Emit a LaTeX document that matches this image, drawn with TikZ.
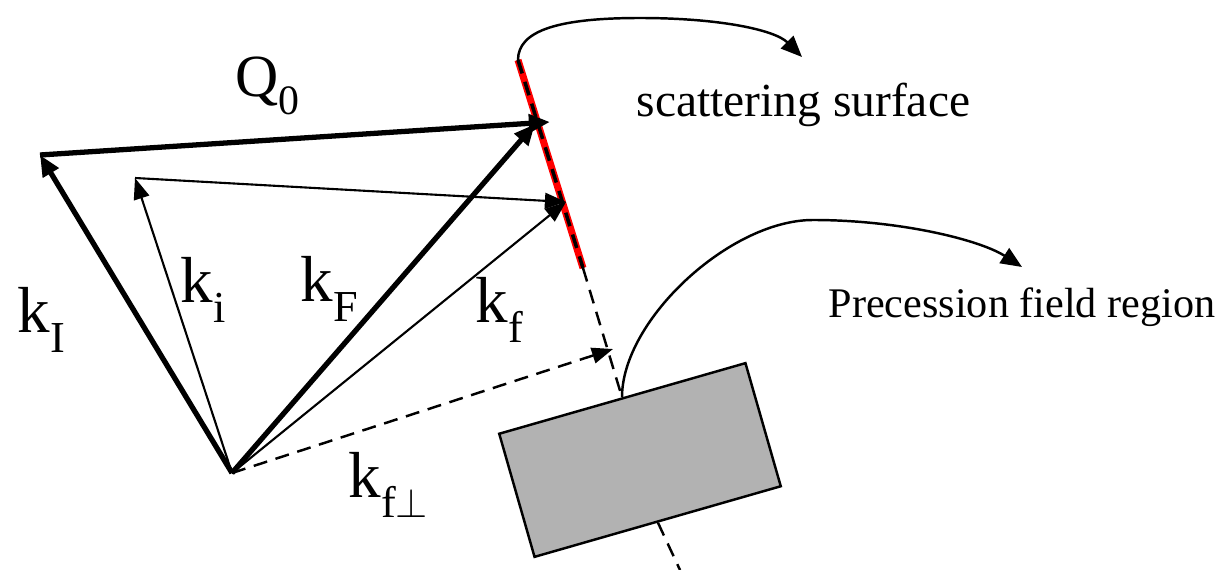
\documentclass[tikz,border=0pt]{standalone}
\usepackage{fontspec}
\setmainfont{Liberation Serif}
\usetikzlibrary{arrows.meta}
\definecolor{surfred}{RGB}{255,0,0}
\definecolor{fieldgray}{RGB}{178,178,178}
\newcommand{\kvec}[1]{k\raisebox{-0.3em}{\scalebox{0.68}{#1}}}

\begin{document}
\begin{tikzpicture}[x=0.01cm, y=-0.01cm,
    thinvec/.style={line width=0.6pt, -{Triangle[length=6pt,width=4.5pt]}},
    thickvec/.style={line width=1.5pt, -{Triangle[length=6pt,width=5pt]}},
    guide/.style={line width=0.7pt, dash pattern=on 4pt off 2.5pt},
    callout/.style={line width=0.7pt, -{Triangle[length=6pt,width=5pt]}},
    klabel/.style={font=\fontsize{18.5}{20}\selectfont, inner sep=0pt, anchor=base west},
    note/.style={inner sep=0pt, anchor=base west}]
  \useasboundingbox (0,0) rectangle (1229,570);

  % vector end points
  \coordinate (O)   at (232,473);
  \coordinate (kIt) at (40,155);
  \coordinate (kit) at (135,178);
  \coordinate (kFt) at (535,124);
  \coordinate (kft) at (566,202);
  \coordinate (qend) at (550,122);
  \coordinate (kpt) at (613,349);

  % scattering surface ends
  \coordinate (S1) at (518,60);
  \coordinate (S2) at (583,268);

  % precession field region
  \node[draw, fill=fieldgray, line width=0.7pt, rotate=16, inner sep=0pt,
        minimum width=2.56cm, minimum height=1.28cm] (box) at (640,460) {};
  \coordinate (axend) at (680,570);

  % surface and its axis
  \draw[surfred, line width=2pt] (S1) -- (S2);
  \draw[guide, line width=1pt] (S1) -- (S2);
  \draw[guide] (S2) -- (box.north);
  \draw[guide] (box.south) -- (axend);

  % wave vectors
  \draw[thickvec] (O) -- (kIt);
  \draw[thickvec] (O) -- (kFt);
  \draw[thickvec] (kIt) -- (qend);
  \draw[thinvec] (O) -- (kit);
  \draw[thinvec] (O) -- (kft);
  \draw[thinvec] (kit) -- (kft);
  \draw[guide, -{Triangle[length=6pt,width=4.5pt]}] (O) -- (kpt);

  % labels
  \node[klabel, font=\fontsize{17}{18}\selectfont] (qlbl) at (235,97)
    {Q\raisebox{-0.3em}{\scalebox{0.7}{0}}};
  \node[klabel] (kIlbl) at (17,333) {\kvec{I}};
  \node[klabel] (kilbl) at (180,303) {\kvec{i}};
  \node[klabel] (kFlbl) at (300,302) {\kvec{F}};
  \node[klabel] (kflbl) at (475,323) {\kvec{f}};
  \node[klabel] (kplbl) at (348,498) {\kvec{f$\perp$}};

  % callouts
  \node[note, font=\fontsize{13.5}{16}\selectfont] (surflbl) at (636,117) {scattering surface};
  \node[note, font=\fontsize{12}{14}\selectfont] (fieldlbl) at (828,318) {Precession field region};
  \draw[callout] (S1) .. controls (518,30) and (560,18) .. (640,18)
    .. controls (720,18) and (775,30) .. (802,57);
  \draw[callout] (box.north) .. controls (622,320) and (730,220) .. (813,220)
    .. controls (900,220) and (980,240) .. (1022,267);
\end{tikzpicture}
\end{document}
